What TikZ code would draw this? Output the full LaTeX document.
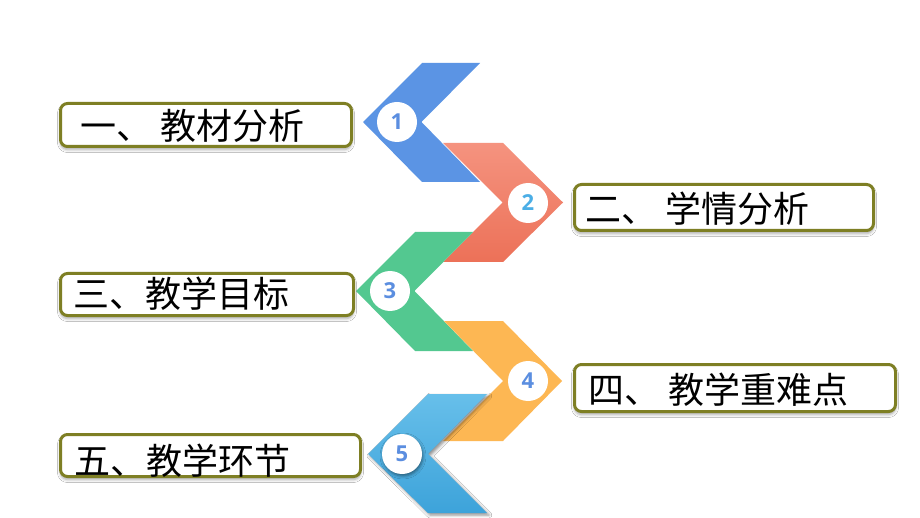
\documentclass[tikz,border=0pt]{standalone}
\usepackage{fontspec}
\newfontfamily\cjk{Noto Sans CJK SC}
\newfontfamily\numfont{Open Sans}
\usetikzlibrary{shadows.blur}
\definecolor{olivebd}{HTML}{7E7F24}
\definecolor{cA}{HTML}{5B94E4}
\definecolor{cBt}{HTML}{F5937F}
\definecolor{cBb}{HTML}{EC7158}
\definecolor{cC}{HTML}{53C890}
\definecolor{cD}{HTML}{FDB753}
\definecolor{cEt}{HTML}{67BFEA}
\definecolor{cEb}{HTML}{3DA3DA}
\definecolor{numblue}{HTML}{5B8EE0}
\definecolor{numlight}{HTML}{4BAEE6}
\tikzset{
  labelbox/.style={draw=olivebd, line width=3pt, rounded corners=7pt, fill=white,
    blur shadow={shadow xshift=0pt, shadow yshift=-3pt, shadow blur radius=3pt, shadow opacity=35},
    inner sep=0pt},
  labeltext/.style={anchor=west, inner sep=0pt, font=\cjk\fontsize{36}{40}\selectfont, text=black},
  numcircle/.style={circle, fill=white, minimum size=40pt, inner sep=0pt,
    font=\numfont\bfseries\fontsize{22}{24}\selectfont, text=numblue},
}
\begin{document}
\begin{tikzpicture}[x=1pt,y=-1pt]
\useasboundingbox (0,0) rectangle (920,518);
\fill[white] (0,0) rectangle (920,518);
% chevrons
\fill[cA] (363,122) -- (422,63) -- (480,63) -- (421.5,122) -- (480,182) -- (422,182) -- cycle;
\shade[top color=cBt, bottom color=cBb] (443,143) -- (503,143) -- (563,202.5) -- (503,262) -- (443,262) -- (502.5,202.5) -- cycle;
\fill[cC] (356,291) -- (415,232) -- (473,232) -- (414.5,291) -- (473,351) -- (415,351) -- cycle;
\fill[cD] (444,321) -- (503,321) -- (562,381) -- (503,441) -- (443,441) -- (503,381) -- cycle;
\path[blur shadow={shadow xshift=2pt, shadow yshift=-2pt, shadow blur radius=3pt, shadow opacity=45}]
  (368,454) -- (428,394) -- (487,394) -- (428,454) -- (487,513) -- (428,513) -- cycle;
\shade[top color=cEt, bottom color=cEb] (368,454) -- (428,394) -- (487,394) -- (428,454) -- (487,513) -- (428,513) -- cycle;
% number circles
\node[numcircle] (n1) at (397,122) {1};
\node[numcircle, text=numlight] (n2) at (528,203) {2};
\node[numcircle] (n3) at (390,291) {3};
\node[numcircle] (n4) at (528,381) {4};
\node[numcircle, blur shadow={shadow xshift=1pt, shadow yshift=-2pt, shadow blur radius=3pt, shadow opacity=45}] (n5) at (402,454) {5};
% label boxes
\node[labelbox, minimum width=291pt, minimum height=43pt] (b1) at (206,125) {};
\node[labelbox, minimum width=299pt, minimum height=46pt] (b2) at (724,207.5) {};
\node[labelbox, minimum width=293pt, minimum height=42pt] (b3) at (207,294.5) {};
\node[labelbox, minimum width=321pt, minimum height=47pt] (b4) at (735,388) {};
\node[labelbox, minimum width=300pt, minimum height=42pt] (b5) at (210.5,455.5) {};
% texts
\node[labeltext] (t1) at (80,126) {一、 教材分析};
\node[labeltext] (t2) at (585,209) {二、 学情分析};
\node[labeltext] (t3) at (73.5,294) {三、教学目标};
\node[labeltext] (t4) at (588,390) {四、 教学重难点};
\node[labeltext] (t5) at (74,461) {五、教学环节};
\end{tikzpicture}
\end{document}
